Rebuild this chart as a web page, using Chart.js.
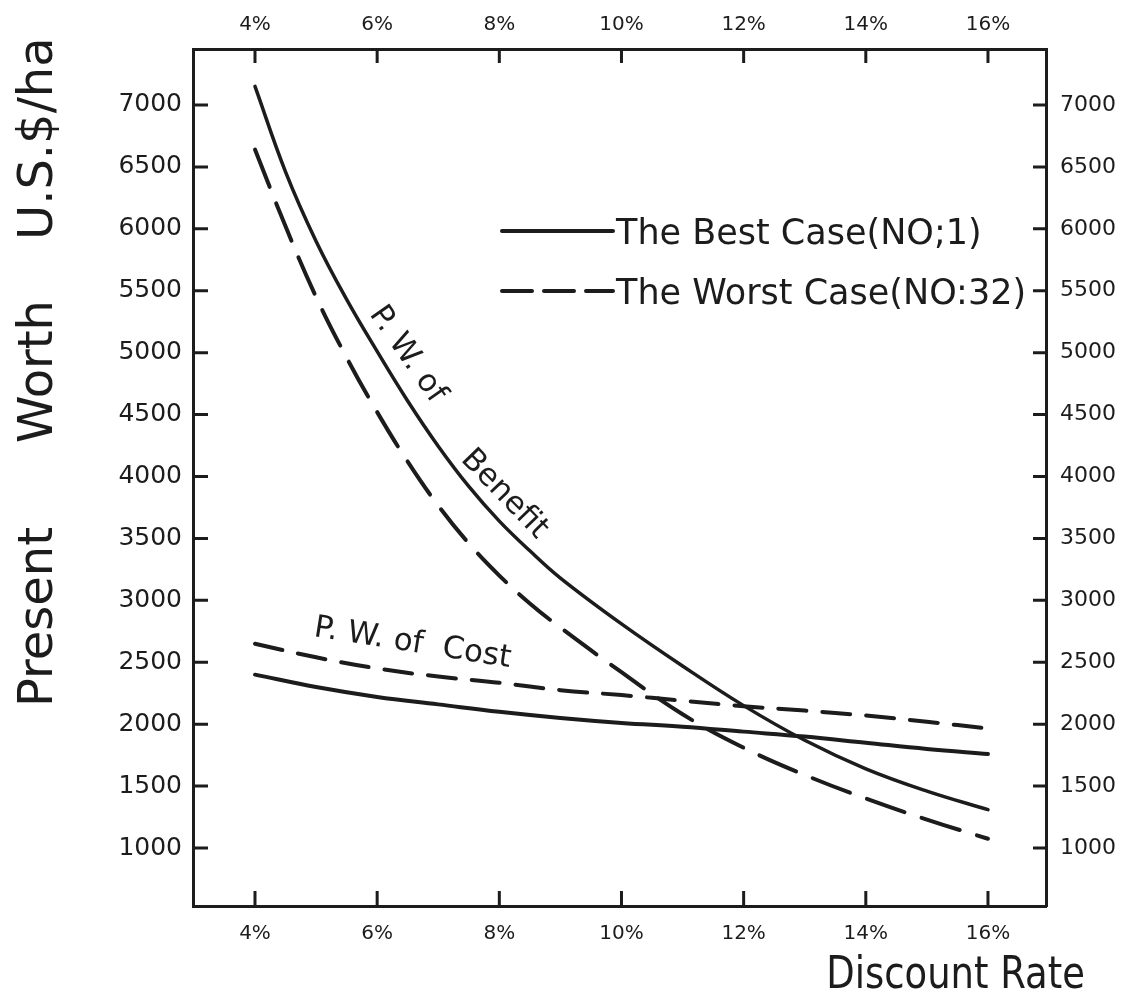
<!DOCTYPE html>
<html><head><meta charset="utf-8">
<script src="https://cdn.jsdelivr.net/npm/chart.js@4"></script>
<style>html,body{margin:0;padding:0;background:#fff;}#wrap{width:1129px;height:999px;}</style>
</head><body><div id="wrap"><canvas id="c" width="1129" height="999"></canvas></div>
<script>
// ---- data ----
const benefitRates = [4, 4.5, 5, 5.5, 6, 6.5, 7, 7.5, 8, 8.5, 9, 10, 11, 12, 13, 14, 15, 16];
const bestBenefit  = [7150, 6460, 5900, 5430, 5010, 4610, 4245, 3920, 3640, 3400, 3180, 2810, 2470, 2150, 1870, 1640, 1460, 1310];
const worstBenefit = [6640, 6020, 5450, 4960, 4520, 4120, 3765, 3460, 3200, 2975, 2780, 2420, 2080, 1810, 1590, 1400, 1230, 1075];
const costRates = [4, 5, 6, 7, 8, 9, 10, 11, 12, 13, 14, 15, 16];
const bestCost  = [2400, 2300, 2220, 2160, 2100, 2050, 2010, 1980, 1940, 1900, 1850, 1800, 1760];
const worstCost = [2650, 2540, 2450, 2385, 2335, 2275, 2235, 2190, 2145, 2110, 2070, 2020, 1965];
const xTicks = [4, 6, 8, 10, 12, 14, 16];
const yTicks = [1000, 1500, 2000, 2500, 3000, 3500, 4000, 4500, 5000, 5500, 6000, 6500, 7000];
const legendLabels = ['The Best Case(NO;1)', 'The Worst Case(NO:32)'];
const curveLabels = ['P. W. of', 'Benefit', 'P. W. of  Cost'];
const yTitleWords = ['Present', 'Worth', 'U.S.$/ha'];
const xTitle = 'Discount Rate';

const INK = '#1c1c1c';
const FONT = '"DejaVu Sans", "Liberation Sans", sans-serif';
const pts = (xs, ys) => xs.map((x, i) => ({x: x, y: ys[i]}));
const SOLID = [];
const DASH_B = [40, 18];
const DASH_C = [28, 16];

function lineDs(label, xs, ys, dash, w) {
  return {label, data: pts(xs, ys), borderColor: INK, borderWidth: w, borderDash: dash,
    borderCapStyle: 'round', pointRadius: 0, tension: 0.4, fill: false};
}

function xScale(pos, h, fs, pad) {
  return {type: 'linear', position: pos, min: 2.985, max: 16.95,
    grid: {display: false, drawTicks: false}, border: {display: true, color: INK, width: 3},
    ticks: {color: INK, font: {family: FONT, size: fs}, padding: pad, callback: v => v + '%'},
    afterBuildTicks: s => { s.ticks = xTicks.map(v => ({value: v})); },
    afterFit: s => { s.height = h; }};
}
function yScale(pos, w, fs, pad) {
  return {type: 'linear', position: pos, min: 532, max: 7452,
    grid: {display: false, drawTicks: false}, border: {display: true, color: INK, width: 3},
    ticks: {color: INK, font: {family: FONT, size: fs}, padding: pad, callback: v => String(v)},
    afterBuildTicks: s => { s.ticks = yTicks.map(v => ({value: v})); },
    afterFit: s => { s.width = w; }};
}

const innerTicks = {
  id: 'innerTicks',
  afterDraw(chart) {
    const ctx = chart.ctx, a = chart.chartArea, s = chart.scales;
    ctx.save(); ctx.strokeStyle = INK; ctx.lineWidth = 3;
    ctx.beginPath();
    xTicks.forEach(v => {
      const p = s.x.getPixelForValue(v);
      ctx.moveTo(p, a.bottom); ctx.lineTo(p, a.bottom - 15);
      const q = s.xTop.getPixelForValue(v);
      ctx.moveTo(q, a.top); ctx.lineTo(q, a.top + 14);
    });
    yTicks.forEach(v => {
      const p = s.y.getPixelForValue(v);
      ctx.moveTo(a.left, p); ctx.lineTo(a.left + 15, p);
      const q = s.yR.getPixelForValue(v);
      ctx.moveTo(a.right, q); ctx.lineTo(a.right - 13, q);
    });
    ctx.stroke(); ctx.restore();
  }
};

const deco = {
  id: 'deco',
  afterDraw(chart) {
    const ctx = chart.ctx;
    ctx.save();
    ctx.fillStyle = INK; ctx.strokeStyle = INK;
    // y title (rotated words)
    ctx.font = '48px ' + FONT; ctx.textAlign = 'left'; ctx.textBaseline = 'alphabetic';
    const starts = [707, 443, 240];
    yTitleWords.forEach((t, i) => {
      ctx.save(); ctx.translate(52, starts[i]); ctx.rotate(-Math.PI / 2); ctx.fillText(t, 0, 0); ctx.restore();
    });
    // x title (slightly condensed)
    ctx.save();
    ctx.font = '44px ' + FONT; ctx.textAlign = 'right';
    ctx.translate(1085, 988); ctx.scale(0.84, 1); ctx.fillText(xTitle, 0, 0);
    ctx.restore();
    // legend
    ctx.lineWidth = 4; ctx.lineCap = 'round';
    const ly = [231, 291];
    [SOLID, [30, 12]].forEach((d, i) => {
      ctx.setLineDash(d); ctx.beginPath(); ctx.moveTo(502, ly[i]); ctx.lineTo(613, ly[i]); ctx.stroke();
    });
    ctx.setLineDash([]);
    ctx.font = '35px ' + FONT; ctx.textAlign = 'left';
    legendLabels.forEach((t, i) => ctx.fillText(t, 616, ly[i] + 13));
    // curve labels
    ctx.font = '31px ' + FONT;
    const lab = [[curveLabels[0], 369, 314, 55], [curveLabels[1], 460, 460, 46], [curveLabels[2], 313, 636, 9]];
    lab.forEach(([t, x, y, ang]) => {
      ctx.save(); ctx.translate(x, y); ctx.rotate(ang * Math.PI / 180); ctx.fillText(t, 0, 0); ctx.restore();
    });
    ctx.restore();
  }
};

new Chart(document.getElementById('c'), {
  type: 'line',
  data: {datasets: [
    lineDs('Best benefit', benefitRates, bestBenefit, SOLID, 3.5),
    lineDs('Worst benefit', benefitRates, worstBenefit, DASH_B, 4),
    lineDs('Best cost', costRates, bestCost, SOLID, 4),
    lineDs('Worst cost', costRates, worstCost, DASH_C, 4)
  ]},
  options: {
    responsive: false, animation: false, devicePixelRatio: 1,
    layout: {padding: 0},
    plugins: {legend: {display: false}, tooltip: {enabled: false}},
    scales: {
      x: xScale('bottom', 93, 20, 16),
      xTop: xScale('top', 49, 20, 12),
      y: yScale('left', 193, 25, 11),
      yR: yScale('right', 83, 22, 14)
    }
  },
  plugins: [innerTicks, deco]
});
</script></body></html>
